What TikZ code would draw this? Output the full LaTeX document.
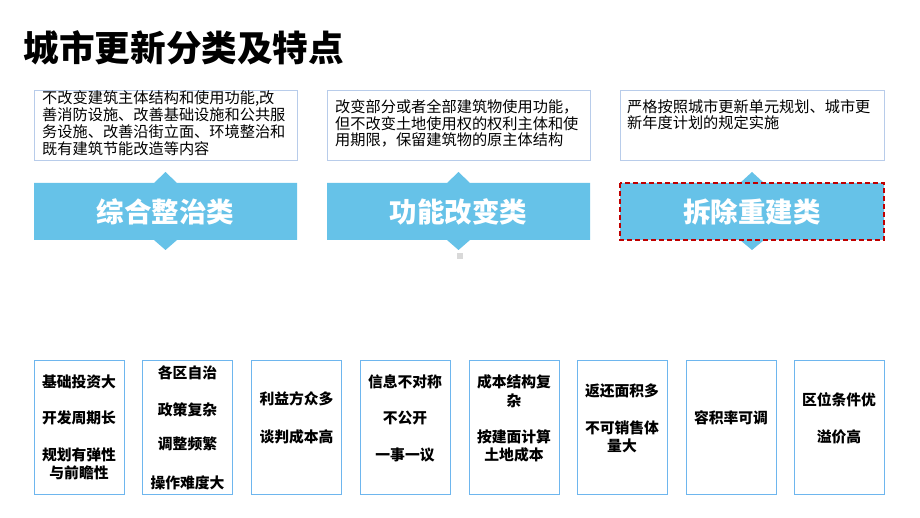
\documentclass[tikz,border=0pt]{standalone}
\usepackage{fontspec}
\setmainfont{Noto Sans CJK SC}
\definecolor{bandblue}{HTML}{66C2E8}
\definecolor{topline}{HTML}{B8CCEA}
\definecolor{botline}{HTML}{6EB6EE}
\definecolor{darkred}{HTML}{C00000}
\tikzset{
  descbox/.style={draw=topline, line width=0.9pt, fill=white},
  desctext/.style={anchor=north west, align=left, inner sep=0pt, font=\fontsize{15.2}{16.9}\selectfont},
  band/.style={fill=bandblue, draw=none},
  bandtext/.style={text=white, font=\fontsize{27.5}{30}\selectfont\bfseries},
  featbox/.style={draw=botline, line width=1pt, minimum width=90pt, minimum height=134pt, inner sep=0pt},
  feattext/.style={align=center, inner sep=0pt, font=\fontsize{14.8}{18.5}\selectfont\bfseries}
}
\begin{document}
\begin{tikzpicture}[x=1pt,y=-1pt]
\useasboundingbox (0,0) rectangle (920,518);
\fill[white] (0,0) rectangle (920,518);
% title
\node[anchor=west, inner sep=0pt, font=\fontsize{35.6}{38}\selectfont\bfseries] (title) at (23.5,48) {城市更新分类及特点};
% description boxes
\draw[descbox] (34,90) rectangle (297,160);
\draw[descbox] (327,90) rectangle (590,160);
\draw[descbox] (620,90) rectangle (884,160);
\node[desctext] (d1) at (42,90.5) {不改变建筑主体结构和使用功能,改\\善消防设施、改善基础设施和公共服\\务设施、改善沿街立面、环境整治和\\既有建筑节能改造等内容};
\node[desctext] (d2) at (335,99) {改变部分或者全部建筑物使用功能，\\但不改变土地使用权的权利主体和使\\用期限，保留建筑物的原主体结构};
\node[desctext] (d3) at (627,99) {严格按照城市更新单元规划、城市更\\新年度计划的规定实施};
% bands
\fill[band] (34,183) -- (154,183) -- (165.5,172) -- (177,183) -- (297,183) -- (297,240) -- (177,240) -- (165.5,250) -- (154,240) -- (34,240) -- cycle;
\fill[band] (327,183) -- (447,183) -- (458.5,172) -- (470,183) -- (590,183) -- (590,240) -- (470,240) -- (458.5,250) -- (447,240) -- (327,240) -- cycle;
\fill[band] (620,183) -- (740,183) -- (752,172) -- (764,183) -- (884,183) -- (884,240) -- (764,240) -- (752,250) -- (740,240) -- (620,240) -- cycle;
\draw[darkred, line width=2pt, dash pattern=on 5pt off 3pt] (620,183) rectangle (884,240);
\node[bandtext] (b1) at (165.5,212) {综合整治类};
\node[bandtext] (b2) at (458.5,212) {功能改变类};
\node[bandtext] (b3) at (752,212) {拆除重建类};
\fill[black!15] (457,253) rectangle (463,259);
% feature boxes
\node[featbox] (f1) at (79,427) {};
\node[featbox] (f2) at (187.5,427) {};
\node[featbox] (f3) at (296.5,427) {};
\node[featbox] (f4) at (405,427) {};
\node[featbox] (f5) at (514,427) {};
\node[featbox] (f6) at (622,427) {};
\node[featbox] (f7) at (731,427) {};
\node[featbox] (f8) at (839,427) {};
% feature texts
\node[feattext] (t11) at (79,382) {基础投资大};
\node[feattext] (t12) at (79,418) {开发周期长};
\node[feattext] (t13) at (79,464) {规划有弹性\\与前瞻性};
\node[feattext] (t21) at (187.5,373) {各区自治};
\node[feattext] (t22) at (187.5,410) {政策复杂};
\node[feattext] (t23) at (187.5,444) {调整频繁};
\node[feattext] (t24) at (187.5,483) {操作难度大};
\node[feattext] (t31) at (296.5,399) {利益方众多};
\node[feattext] (t32) at (296.5,437) {谈判成本高};
\node[feattext] (t41) at (405,382) {信息不对称};
\node[feattext] (t42) at (405,418) {不公开};
\node[feattext] (t43) at (405,455) {一事一议};
\node[feattext] (t51) at (514,391) {成本结构复\\杂};
\node[feattext] (t52) at (514,446) {按建面计算\\土地成本};
\node[feattext] (t61) at (622,391) {返还面积多};
\node[feattext] (t62) at (622,437) {不可销售体\\量大};
\node[feattext] (t71) at (731,418) {容积率可调};
\node[feattext] (t81) at (839,400) {区位条件优};
\node[feattext] (t82) at (839,437) {溢价高};
\end{tikzpicture}
\end{document}
